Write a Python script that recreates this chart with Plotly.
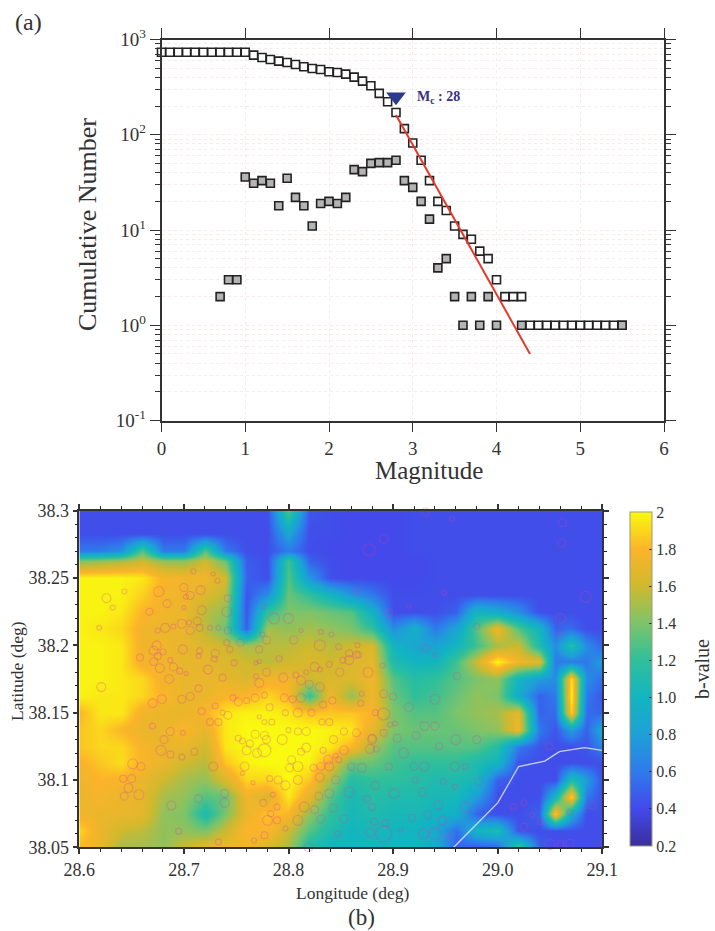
import plotly.graph_objects as go

W, H = 715, 931
SERIF = "Liberation Serif"

# ---------- panel (a): frequency-magnitude data ----------
cum_mag = [0.0, 0.1, 0.2, 0.3, 0.4, 0.5, 0.6, 0.7, 0.8, 0.9, 1.0, 1.1, 1.2, 1.3, 1.4, 1.5, 1.6, 1.7, 1.8, 1.9,
           2.0, 2.1, 2.2, 2.3, 2.4, 2.5, 2.6, 2.7, 2.8, 2.9, 3.0, 3.1, 3.2, 3.3, 3.4, 3.5, 3.6, 3.7, 3.8, 3.9,
           4.0, 4.1, 4.2, 4.3, 4.4, 4.5, 4.6, 4.7, 4.8, 4.9, 5.0, 5.1, 5.2, 5.3, 5.4, 5.5]
cum_count = [735, 735, 735, 735, 735, 735, 735, 735, 735, 735, 735, 685, 647, 617, 593, 574, 547, 517, 496, 484,
             458, 451, 433, 403, 366, 327, 272, 222, 171, 116, 82, 54, 33, 20, 16, 11, 9, 8, 6, 5,
             3, 2, 2, 2, 1, 1, 1, 1, 1, 1, 1, 1, 1, 1, 1, 1]
inc_mag = [0.7, 0.8, 0.9, 1.0, 1.1, 1.2, 1.3, 1.4, 1.5, 1.6, 1.7, 1.8, 1.9, 2.0, 2.1, 2.2, 2.3, 2.4, 2.5, 2.6,
           2.7, 2.8, 2.9, 3.0, 3.1, 3.2, 3.3, 3.4, 3.5, 3.6, 3.7, 3.8, 3.9, 4.0, 4.3, 5.5]
inc_count = [2, 3, 3, 36, 31, 33, 31, 18, 35, 22, 18, 11, 19, 20, 19, 22, 43, 41, 50, 51,
             51, 54, 33, 28, 20, 13, 4, 5, 2, 1, 2, 1, 2, 1, 1, 1]
fit_mag = [2.8, 4.4]
fit_count = [161, 0.5]
mc_mag = [2.8]
mc_count = [250]
mc_label = "M<sub>c</sub> : 28"
mag_ticks = [0, 1, 2, 3, 4, 5, 6]
count_ticks = [0.1, 1, 10, 100, 1000]
count_labels = ["10<sup>-1</sup>", "10<sup>0</sup>", "10<sup>1</sup>", "10<sup>2</sup>", "10<sup>3</sup>"]
count_minor = [0.2, 0.3, 0.4, 0.5, 0.6, 0.7, 0.8, 0.9, 2, 3, 4, 5, 6, 7, 8, 9,
               20, 30, 40, 50, 60, 70, 80, 90, 200, 300, 400, 500, 600, 700, 800, 900]

# ---------- panel (b): b-value map ----------
grid_lon = [28.60, 28.62, 28.64, 28.66, 28.68, 28.70, 28.72, 28.74, 28.76, 28.78, 28.80, 28.82, 28.84, 28.86,
            28.88, 28.90, 28.92, 28.94, 28.96, 28.98, 29.00, 29.02, 29.04, 29.055, 29.07, 29.085, 29.10]
grid_lat = [38.3000, 38.2828, 38.2701, 38.2627, 38.2500, 38.2375, 38.2250, 38.2125, 38.2000, 38.1875, 38.1750,
            38.1625, 38.1500, 38.1375, 38.1250, 38.1125, 38.1000, 38.0875, 38.0750, 38.0625, 38.0500]
b_value = [
 [.42,.42,.42,.42,.42, .42,.42,.42,.42,.42, 1.3,.45,.42,.40,.40, .40,.42,.42,.42,.42, .42,.42,.42,.42,.42, .42,.42],
 [.42,.42,.42,.42,.42, .42,.42,.42,.42,.42, .85,.42,.42,.40,.40, .40,.42,.42,.42,.42, .42,.42,.42,.42,.42, .42,.42],
 [.6,.6,.7,1.3,.6, .6,1.3,.6,.42,.42, .6,.42,.40,.40,.40, .40,.42,.42,.42,.42, .42,.42,.42,.42,.42, .42,.42],
 [1.4,1.45,1.5,1.6,1.45, 1.45,1.6,1.35,.48,.42, 1.25,.5,.42,.40,.40, .40,.40,.42,.42,.42, .42,.42,.42,.42,.42, .42,.42],
 [1.98,1.98,1.98,1.95,1.78, 1.75,1.75,1.62,.5,.42, 1.3,.75,.42,.40,.40, .40,.40,.42,.42,.42, .42,.42,.42,.42,.42, .42,.42],
 [1.98,1.98,1.98,1.88,1.76, 1.75,1.65,1.55,.45,.7, 1.35,1.2,1.0,.75,.6, .42,.42,.42,.42,.42, .42,.42,.42,.42,.42, .42,.42],
 [1.98,1.98,1.95,1.8,1.75, 1.72,1.55,1.45,.45,1.2, 1.4,1.4,1.35,1.3,.95, .42,.42,.42,.5,1.0, .9,.7,.42,.42,.42, .42,.42],
 [1.98,1.95,1.9,1.75,1.72, 1.72,1.55,1.35,.5,1.5, 1.45,1.5,1.45,1.4,1.2, .7,.95,.6,.85,1.3, 1.75,1.3,1.0,.5,.55, .42,.42],
 [1.98,1.98,1.95,1.75,1.75, 1.7,1.65,1.6,1.5,1.55, 1.55,1.6,1.55,1.6,1.65, 1.0,.85,.85,1.0,1.25, 1.5,1.6,1.1,.7,1.15, .7,.5],
 [1.98,1.98,1.95,1.75,1.75, 1.7,1.7,1.65,1.6,1.55, 1.6,1.65,1.6,1.65,1.7, 1.1,1.0,1.0,1.25,1.6, 2.0,1.75,1.7,.6,.6, .6,.8],
 [1.98,1.98,1.95,1.9,1.75, 1.72,1.72,1.7,1.65,1.75, 1.75,1.6,1.65,1.65,1.75, 1.3,1.15,1.2,1.3,1.4, 1.45,1.0,.8,.7,1.95, .7,.55],
 [1.98,1.95,1.95,1.9,1.78, 1.72,1.72,1.78,1.8,1.9, 1.8,1.2,1.75,1.45,1.75, 1.35,1.2,1.25,1.35,1.45, 1.4,.9,.5,.6,2.0, .6,.45],
 [1.8,1.95,1.95,1.75,1.72, 1.72,1.78,1.95,1.98,1.98, 1.95,1.85,1.85,1.85,1.8, 1.4,1.3,1.3,1.4,1.45, 1.5,1.7,.5,.55,1.9, .55,.5],
 [1.85,1.9,1.8,1.72,1.72, 1.8,1.7,1.95,2.0,2.0, 2.0,2.0,1.98,1.95,1.7, 1.4,1.35,1.35,1.35,1.4, 1.45,1.75,.6,.45,.8, .5,.9],
 [1.85,1.9,1.9,1.78,1.72, 1.72,1.6,1.95,2.0,2.0, 2.0,2.0,1.95,1.8,1.5, 1.3,1.3,1.3,1.3,1.3, 1.15,.6,.45,.42,.42, .45,.65],
 [1.78,1.85,1.92,1.78,1.72, 1.6,1.55,1.85,1.98,2.0, 2.0,1.98,1.75,1.35,1.35, 1.25,1.2,1.2,1.2,1.1, 1.0,.45,.42,.42,.42, .42,.42],
 [1.75,1.8,1.78,1.72,1.6, 1.5,1.45,1.65,1.9,1.9, 2.0,1.85,1.5,1.15,1.2, 1.2,1.15,1.1,1.1,1.05, .5,.42,.42,.42,1.1, .8,.42],
 [1.72,1.78,1.72,1.7,1.5, 1.45,1.3,1.35,1.75,1.65, 1.95,1.7,1.3,1.05,1.15, 1.1,1.1,1.05,1.05,.8, .42,.42,.42,1.0,1.9, .6,.42],
 [1.75,1.72,1.72,1.7,1.45, 1.4,1.1,1.4,1.72,1.85, 1.8,1.45,1.2,1.05,1.1, 1.05,1.05,1.0,.95,.5, .42,.42,.5,1.9,.9, .42,.42],
 [1.9,1.72,1.6,1.55,1.45, 1.45,1.4,1.6,1.8,1.8, 1.6,1.3,1.1,1.0,1.05, 1.0,1.0,.9,.55,1.0, 1.1,.45,.42,.42,.42, .42,.42],
 [1.8,1.72,1.5,1.5,1.45, 1.6,1.7,1.75,1.75,1.65, 1.5,1.1,1.0,1.0,1.0, 1.0,1.0,.9,.5,.45, .5,1.3,.5,.42,.42, .42,.42],
]

event_lon = [
 28.626,28.643,28.632,28.619,28.676,28.700,28.716,28.706,28.702,28.684,28.700,28.717,28.667,28.742,28.741,28.709,28.728,28.732,
 28.786,28.800,28.776,28.698,28.705,28.713,28.690,28.682,28.675,28.706,28.715,28.725,28.733,28.742,28.775,28.779,28.805,28.812,
 28.831,28.841,28.830,28.848,28.754,28.741,28.674,28.671,28.680,28.675,28.699,28.715,28.714,28.730,28.729,28.744,28.772,28.658,
 28.671,28.687,28.748,28.769,28.772,28.791,28.677,28.690,28.696,28.723,28.779,28.795,28.769,28.737,28.686,28.702,28.807,28.812,
 28.817,28.825,28.830,28.839,28.849,28.852,28.858,28.858,28.865,28.830,28.820,28.772,28.621,28.714,
 28.670,28.679,28.698,28.706,28.717,28.730,28.747,28.752,28.760,28.768,28.777,28.782,28.796,28.809,28.822,28.804,28.812,28.833,
 28.842,28.742,28.737,28.733,28.725,28.772,28.777,28.784,28.797,28.670,28.687,28.699,28.681,28.678,28.687,28.698,28.710,28.752,
 28.756,28.768,28.777,28.763,28.760,28.770,28.777,28.779,28.794,28.800,28.809,28.817,28.843,28.832,28.839,28.853,28.865,28.817,
 28.812,28.833,28.853,28.845,28.838,28.848,28.803,28.809,28.801,28.824,28.831,28.839,28.860,28.651,28.659,28.642,28.650,28.647,
 28.643,28.657,28.728,28.758,28.756,28.766,28.782,28.790,28.797,28.809,28.830,28.845,28.858,28.839,28.829,28.739,28.739,28.714,
 28.688,28.776,28.785,28.789,28.783,28.780,28.789,28.815,28.825,28.809,28.831,28.843,28.853,28.797,28.777,28.767,28.733,28.695,
 28.779,28.809,28.819,28.847,
 28.931,28.956,28.891,28.877,29.062,29.061,29.084,28.949,28.915,28.896,28.866,29.060,28.980,28.931,28.940,28.961,28.890,28.866,
 28.867,28.876,29.060,
 28.891,28.900,28.940,28.915,28.891,28.883,28.897,28.902,28.930,28.940,28.922,28.891,28.904,28.880,28.980,28.960,28.944,28.910,
 28.878,28.884,28.870,28.896,28.920,28.930,28.959,28.969,28.921,28.948,28.982,28.883,28.959,28.901,28.928,28.875,28.943,28.969,
 28.880,28.918,28.933,28.947,28.893,28.882,28.907,28.878,28.891,28.929,28.940,28.953,28.969,29.050,29.069,29.060,29.015,29.025,
 29.033,29.069,29.090,29.103,29.049,29.025,29.041,28.870,28.869,28.880,28.907]
event_lat = [
 38.235,38.240,38.228,38.213,38.240,38.243,38.241,38.237,38.236,38.231,38.228,38.226,38.225,38.235,38.225,38.255,38.253,38.248,
 38.220,38.220,38.229,38.216,38.217,38.218,38.214,38.213,38.211,38.211,38.213,38.213,38.213,38.211,38.208,38.204,38.204,38.211,
 38.210,38.208,38.200,38.199,38.202,38.202,38.200,38.196,38.195,38.192,38.197,38.196,38.192,38.194,38.190,38.197,38.197,38.191,
 38.188,38.189,38.187,38.187,38.188,38.190,38.183,38.184,38.181,38.182,38.180,38.176,38.177,38.176,38.175,38.179,38.178,38.174,
 38.180,38.184,38.182,38.186,38.180,38.189,38.189,38.194,38.193,38.169,38.171,38.172,38.169,38.168,
 38.157,38.160,38.160,38.162,38.151,38.155,38.161,38.158,38.159,38.161,38.163,38.154,38.161,38.150,38.150,38.160,38.161,38.156,
 38.159,38.148,38.150,38.143,38.143,38.147,38.143,38.143,38.150,38.140,38.136,38.135,38.130,38.122,38.119,38.117,38.121,38.131,
 38.129,38.134,38.133,38.127,38.122,38.120,38.122,38.130,38.130,38.137,38.136,38.136,38.130,38.143,38.143,38.136,38.135,38.124,
 38.121,38.122,38.122,38.118,38.115,38.115,38.115,38.110,38.109,38.109,38.110,38.110,38.110,38.112,38.110,38.101,38.101,38.094,
 38.088,38.089,38.110,38.110,38.105,38.098,38.101,38.100,38.096,38.100,38.102,38.100,38.091,38.090,38.088,38.090,38.083,38.086,
 38.081,38.083,38.089,38.080,38.075,38.070,38.070,38.080,38.078,38.070,38.071,38.079,38.071,38.064,38.059,38.055,38.054,38.062,
 38.049,38.049,38.050,38.060,
 38.299,38.294,38.279,38.271,38.291,38.276,38.236,38.239,38.229,38.224,38.240,38.220,38.214,38.198,38.193,38.177,38.185,38.200,
 38.193,38.180,38.208,
 38.164,38.162,38.160,38.154,38.149,38.150,38.141,38.142,38.140,38.140,38.133,38.135,38.131,38.130,38.130,38.130,38.125,38.120,
 38.123,38.123,38.109,38.110,38.110,38.110,38.110,38.110,38.100,38.099,38.099,38.096,38.095,38.090,38.091,38.086,38.081,38.080,
 38.080,38.072,38.074,38.070,38.068,38.069,38.063,38.061,38.060,38.060,38.060,38.058,38.049,38.052,38.053,38.052,38.080,38.083,
 38.074,38.076,38.081,38.080,38.125,38.065,38.069,38.164,38.157,38.131,38.048]
event_size = [
 9,5,5,5,10,8,9,8,5,8,4,9,7,7,10,5,4,5,
 11,10,5,9,5,8,5,9,5,8,7,5,5,7,5,8,8,4,
 5,5,11,6,7,6,9,9,6,7,9,6,5,8,6,6,7,7,
 8,5,6,4,4,6,9,8,6,9,8,9,5,7,9,4,6,9,
 5,9,5,6,8,6,9,7,7,9,8,9,9,7,
 9,9,8,8,7,6,6,8,6,8,6,7,8,9,7,7,9,7,
 7,8,5,7,7,4,5,6,6,6,8,5,8,10,7,6,7,6,
 6,8,8,7,9,9,13,8,10,5,7,8,8,6,7,7,8,9,
 7,6,9,5,9,6,8,10,8,7,8,9,7,10,8,7,8,9,
 8,10,9,9,4,4,6,8,9,9,9,8,10,9,8,8,9,8,
 9,7,5,6,6,10,7,10,8,10,8,8,8,5,7,5,6,6,
 7,12,9,6,
 8,5,9,12,8,8,11,5,4,8,7,10,6,7,4,7,5,5,
 6,10,4,
 8,7,10,9,12,6,5,5,9,8,8,7,8,9,8,10,7,10,
 9,6,9,7,8,9,9,6,6,6,8,8,5,10,8,7,9,10,
 7,7,8,9,7,7,5,9,16,10,12,5,10,10,8,7,6,6,
 5,6,7,8,7,8,6,5,6,8,7]

fault_lon = [28.958, 29.000, 29.020, 29.045, 29.059, 29.083, 29.100]
fault_lat = [38.050, 38.083, 38.110, 38.114, 38.121, 38.124, 38.122]

lon_ticks = [28.6, 28.7, 28.8, 28.9, 29.0, 29.1]
lon_labels = ["28.6", "28.7", "28.8", "28.9", "29.0", "29.1"]
lat_ticks = [38.05, 38.1, 38.15, 38.2, 38.25, 38.3]
lat_labels = ["38.05", "38.1", "38.15", "38.2", "38.25", "38.3"]
cb_ticks = [0.2, 0.4, 0.6, 0.8, 1.0, 1.2, 1.4, 1.6, 1.8, 2.0]
cb_labels = ["0.2", "0.4", "0.6", "0.8", "1.0", "1.2", "1.4", "1.6", "1.8", "2"]

colorscale = [
    [0.000, "#3a2e9c"], [0.111, "#4349ea"], [0.222, "#2f7aec"], [0.333, "#1ea0d8"],
    [0.444, "#12b5c0"], [0.556, "#2fbf9b"], [0.667, "#7dc46a"], [0.778, "#d0b92e"],
    [0.889, "#fcb42a"], [1.000, "#f9fa0f"],
]


def px_x(p):
    return p / W


def px_y(p):
    return 1 - p / H


fig = go.Figure()
dark = "#333333"
sq = dict(symbol="square", size=8, line=dict(color="#222222", width=1.6))

fig.add_trace(go.Scatter(x=cum_mag, y=cum_count, mode="markers", xaxis="x", yaxis="y",
                         marker=dict(color="white", **sq), cliponaxis=False))
fig.add_trace(go.Scatter(x=inc_mag, y=inc_count, mode="markers", xaxis="x", yaxis="y",
                         marker=dict(color="#b4b4b4", **sq), cliponaxis=False))
fig.add_trace(go.Scatter(x=fit_mag, y=fit_count, mode="lines", xaxis="x", yaxis="y",
                         line=dict(color="#e6382a", width=2)))
fig.add_trace(go.Scatter(x=mc_mag, y=mc_count, mode="markers", xaxis="x", yaxis="y",
                         marker=dict(symbol="triangle-down", size=17, color="#2b3a8c")))

fig.add_trace(go.Heatmap(x=grid_lon, y=grid_lat, z=b_value, xaxis="x2", yaxis="y2", zmin=0.2, zmax=2,
                         zsmooth="best", colorscale=colorscale,
                         colorbar=dict(x=px_x(630), xanchor="left", xref="paper",
                                       y=px_y(846), yanchor="bottom", yref="paper",
                                       thickness=22, thicknessmode="pixels", len=334, lenmode="pixels",
                                       outlinecolor="#9a9a80", outlinewidth=1, xpad=0, ypad=0,
                                       tickmode="array", tickvals=cb_ticks, ticktext=cb_labels,
                                       ticks="inside", ticklen=3, tickcolor=dark,
                                       tickfont=dict(family=SERIF, size=16, color=dark))))
fig.add_trace(go.Scatter(x=event_lon, y=event_lat, mode="markers", xaxis="x2", yaxis="y2", cliponaxis=False,
                         marker=dict(symbol="circle", size=event_size, color="rgba(0,0,0,0)",
                                     line=dict(color="rgba(226,60,165,0.42)", width=1.1))))
fig.add_trace(go.Scatter(x=fault_lon, y=fault_lat, mode="lines", xaxis="x2", yaxis="y2",
                         line=dict(color="rgba(225,230,240,0.85)", width=1.3)))

grid_pink = "rgba(245,170,170,0.25)"
axis_common = dict(showline=True, linecolor=dark, linewidth=1.5, mirror="ticks", ticks="outside",
                   tickcolor=dark, showgrid=False, zeroline=False)

fig.update_layout(
    width=W, height=H, autosize=False, showlegend=False,
    margin=dict(l=0, r=0, t=0, b=0, autoexpand=False), paper_bgcolor="white", plot_bgcolor="white",
    xaxis=dict(domain=[px_x(161.5), px_x(664)], anchor="y", range=[0, 6], tickvals=mag_ticks,
               ticklen=10, tickwidth=1.3, tickfont=dict(family=SERIF, size=19, color=dark),
               **{**axis_common, "showgrid": True}, gridcolor=grid_pink, griddash="dot", gridwidth=1),
    yaxis=dict(domain=[px_y(420.5), px_y(39.5)], anchor="x", type="log", range=[-1, 3],
               tickmode="array", tickvals=count_ticks, ticktext=count_labels,
               ticklen=10, tickwidth=1.3, tickfont=dict(family=SERIF, size=19, color=dark),
               minor=dict(tickmode="array", tickvals=count_minor, ticks="outside", ticklen=5, tickwidth=1,
                          tickcolor=dark, showgrid=True, gridcolor=grid_pink, griddash="dot", gridwidth=1),
               **{**axis_common, "showgrid": True}, gridcolor=grid_pink, griddash="dot", gridwidth=1),
    xaxis2=dict(domain=[px_x(79.3), px_x(602.3)], anchor="y2", range=[28.6, 29.1], tickmode="array",
                tickvals=lon_ticks, ticktext=lon_labels, ticklen=5, tickwidth=1.5,
                tickfont=dict(family=SERIF, size=18, color=dark),
                minor=dict(dtick=0.02, ticks="outside", ticklen=3, tickwidth=1.2, tickcolor="#222222"),
                **axis_common),
    yaxis2=dict(domain=[px_y(847.3), px_y(510.7)], anchor="x2", range=[38.05, 38.3], tickmode="array",
                tickvals=lat_ticks, ticktext=lat_labels, ticklen=5, tickwidth=1.5,
                tickfont=dict(family=SERIF, size=18, color=dark),
                minor=dict(dtick=0.01, ticks="outside", ticklen=3, tickwidth=1.2, tickcolor="#222222"),
                **axis_common),
)


def label(text, x, y, size, angle=0, color=dark):
    fig.add_annotation(text=text, x=px_x(x), y=px_y(y), xref="paper", yref="paper", showarrow=False,
                       textangle=angle, xanchor="center", yanchor="middle",
                       font=dict(family=SERIF, size=size, color=color))


label("(a)", 28, 22, 24)
label("(b)", 361, 917, 23)
label("Cumulative Number", 87, 225, 26, angle=-90)
label("Magnitude", 429, 471, 25)
label("Longitude (deg)", 352, 893, 17.5)
label("Latitude (deg)", 17, 671, 17.5, angle=-90)
label("b-value", 702, 669, 20, angle=-90)
fig.add_annotation(text="<b>" + mc_label + "</b>", x=2.8, y=2.396, xref="x", yref="y", showarrow=False,
                   xshift=42, font=dict(family=SERIF, size=14, color="#3a2f80"))

fig.write_html("out.html", config={"displayModeBar": False},
               post_script="document.body.style.margin='0';document.body.style.overflow='hidden';")
